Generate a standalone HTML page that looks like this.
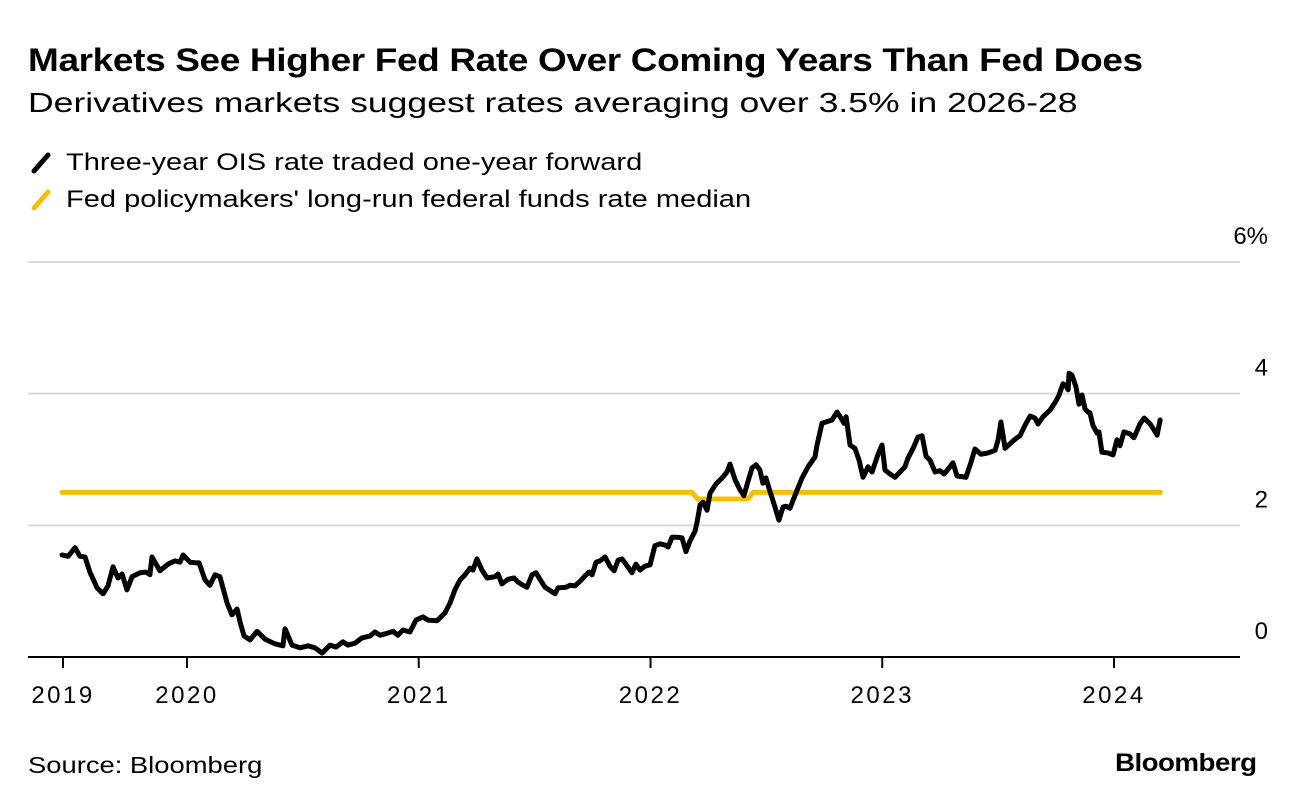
<!DOCTYPE html>
<html><head><meta charset="utf-8"><style>
body{margin:0;background:#fff;font-family:"Liberation Sans",sans-serif;}
#wrap{position:relative;width:1296px;height:806px;overflow:hidden;}
.t{position:absolute;white-space:nowrap;color:#000;transform-origin:0 50%;}
</style></head><body>
<div id="wrap">
<div class="t" style="left:28px;top:42px;font-size:32px;font-weight:bold;letter-spacing:-0.3px;transform:scaleX(1.155)">Markets See Higher Fed Rate Over Coming Years Than Fed Does</div>
<div class="t" style="left:28px;top:87px;font-size:28px;transform:scaleX(1.27)">Derivatives markets suggest rates averaging over 3.5% in 2026-28</div>
<svg style="position:absolute;left:28px;top:150px" width="30" height="70"><line x1="6" y1="21" x2="20" y2="5" stroke="#000" stroke-width="5" stroke-linecap="round"/><line x1="6" y1="58" x2="20" y2="42" stroke="#f5c000" stroke-width="5" stroke-linecap="round"/></svg>
<div class="t" style="left:66px;top:149px;font-size:24px;transform:scaleX(1.21)">Three-year OIS rate traded one-year forward</div>
<div class="t" style="left:66px;top:186px;font-size:24px;transform:scaleX(1.21)">Fed policymakers' long-run federal funds rate median</div>
<svg id="chart" width="1296" height="806" style="position:absolute;left:0;top:0"></svg>
<div class="t" style="left:28px;top:752px;font-size:23px;transform:scaleX(1.19)">Source: Bloomberg</div>
<div class="t" style="left:1115px;top:749px;font-size:25px;font-weight:bold;letter-spacing:-0.5px;transform:scaleX(1.11)">Bloomberg</div>
</div>
<script>
const oisDates=[2019.461,2019.487,2019.517,2019.538,2019.560,2019.581,2019.612,2019.638,2019.659,2019.681,2019.702,2019.720,2019.741,2019.763,2019.797,2019.823,2019.840,2019.849,2019.883,2019.918,2019.948,2019.970,2019.983,2020.013,2020.039,2020.052,2020.078,2020.099,2020.121,2020.142,2020.173,2020.194,2020.216,2020.229,2020.246,2020.272,2020.302,2020.337,2020.380,2020.414,2020.423,2020.453,2020.488,2020.522,2020.552,2020.583,2020.617,2020.643,2020.673,2020.695,2020.725,2020.755,2020.790,2020.811,2020.833,2020.863,2020.889,2020.910,2020.932,2020.962,2020.988,2021.018,2021.040,2021.079,2021.113,2021.135,2021.156,2021.178,2021.200,2021.221,2021.234,2021.251,2021.273,2021.295,2021.329,2021.342,2021.359,2021.385,2021.411,2021.428,2021.450,2021.467,2021.489,2021.506,2021.523,2021.545,2021.575,2021.588,2021.601,2021.635,2021.653,2021.674,2021.696,2021.717,2021.735,2021.748,2021.765,2021.782,2021.804,2021.825,2021.843,2021.860,2021.877,2021.894,2021.920,2021.937,2021.955,2021.976,2021.998,2022.019,2022.041,2022.063,2022.076,2022.093,2022.114,2022.136,2022.153,2022.170,2022.192,2022.201,2022.214,2022.227,2022.244,2022.257,2022.283,2022.309,2022.330,2022.343,2022.365,2022.386,2022.403,2022.425,2022.438,2022.455,2022.472,2022.485,2022.498,2022.516,2022.537,2022.554,2022.572,2022.585,2022.602,2022.624,2022.654,2022.680,2022.710,2022.718,2022.740,2022.757,2022.783,2022.805,2022.822,2022.835,2022.844,2022.861,2022.882,2022.900,2022.917,2022.939,2022.956,2022.982,2022.999,2023.012,2023.033,2023.055,2023.085,2023.098,2023.111,2023.133,2023.154,2023.172,2023.189,2023.206,2023.228,2023.249,2023.267,2023.288,2023.305,2023.323,2023.361,2023.383,2023.400,2023.426,2023.456,2023.487,2023.500,2023.512,2023.530,2023.564,2023.581,2023.594,2023.616,2023.638,2023.659,2023.672,2023.694,2023.724,2023.750,2023.763,2023.780,2023.793,2023.802,2023.806,2023.819,2023.836,2023.849,2023.862,2023.875,2023.888,2023.896,2023.909,2023.927,2023.935,2023.948,2023.974,2023.996,2024.013,2024.026,2024.043,2024.069,2024.086,2024.112,2024.130,2024.156,2024.173,2024.186,2024.199];
const oisValues=[1.55,1.53,1.66,1.53,1.52,1.29,1.05,0.96,1.08,1.37,1.20,1.26,1.02,1.22,1.28,1.29,1.25,1.52,1.31,1.41,1.46,1.44,1.55,1.44,1.43,1.43,1.17,1.09,1.25,1.22,0.82,0.64,0.73,0.53,0.32,0.26,0.39,0.27,0.20,0.17,0.43,0.18,0.14,0.17,0.14,0.06,0.18,0.15,0.23,0.18,0.21,0.29,0.32,0.38,0.33,0.36,0.39,0.33,0.41,0.38,0.56,0.61,0.56,0.55,0.67,0.82,1.02,1.17,1.25,1.35,1.32,1.49,1.32,1.20,1.22,1.26,1.11,1.18,1.20,1.14,1.09,1.06,1.25,1.28,1.18,1.06,0.99,0.96,1.05,1.06,1.09,1.08,1.15,1.23,1.29,1.25,1.44,1.46,1.52,1.38,1.31,1.47,1.49,1.41,1.28,1.41,1.32,1.38,1.40,1.69,1.72,1.70,1.67,1.82,1.82,1.81,1.60,1.76,1.91,2.05,2.31,2.35,2.23,2.49,2.63,2.72,2.81,2.93,2.69,2.54,2.45,2.72,2.87,2.92,2.84,2.64,2.72,2.51,2.28,2.08,2.28,2.29,2.26,2.46,2.72,2.89,3.04,3.21,3.55,3.57,3.60,3.72,3.63,3.55,3.65,3.22,3.17,2.99,2.73,2.89,2.81,3.08,3.22,2.84,2.78,2.73,2.84,2.89,3.02,3.17,3.34,3.36,3.05,2.99,2.81,2.83,2.78,2.87,2.95,2.75,2.73,2.96,3.16,3.08,3.10,3.14,3.30,3.57,3.17,3.28,3.33,3.36,3.52,3.66,3.63,3.54,3.65,3.75,3.89,3.98,4.15,4.12,4.06,4.31,4.28,4.10,3.84,3.98,3.77,3.72,3.71,3.52,3.40,3.42,3.11,3.10,3.07,3.30,3.21,3.42,3.39,3.33,3.54,3.63,3.54,3.45,3.37,3.60];
const fedDates=[2019.461,2022.180,2022.202,2022.421,2022.443,2024.200];
const fedValues=[2.5,2.5,2.4,2.4,2.5,2.5];
const yTicks=[0,2,4,6];
const yTickLabels=["0","2","4","6%"];
const xTicks=[2019.465,2020,2021,2022,2023,2024];
const xTickLabels=["2019","2020","2021","2022","2023","2024"];

const NS="http://www.w3.org/2000/svg";
const svg=document.getElementById('chart');
const X0=28,X1=1240;
function xs(t){return 187+(t-2020)*231.75;}
function ys(v){return 657-v*65.83;}
function mk(tag,attrs){const e=document.createElementNS(NS,tag);for(const k in attrs)e.setAttribute(k,attrs[k]);svg.appendChild(e);return e;}
yTicks.forEach((v,i)=>{
  if(v>0){const g=mk('line',{x1:X0,x2:X1,y1:ys(v),y2:ys(v),stroke:'#d9d9d9','stroke-width':2});
  
  }
  const t=mk('text',{x:1268,y:ys(v)-18,'text-anchor':'end','font-size':24,'font-family':'Liberation Sans, sans-serif',fill:'#000'});
  t.textContent=yTickLabels[i];
  
  
});
xTicks.forEach((v,i)=>{
  const l=mk('line',{x1:xs(v),x2:xs(v),y1:657,y2:668,stroke:'#000','stroke-width':2});
  
  
  const t=mk('text',{x:xs(v),y:703,'text-anchor':'middle','font-size':24,'letter-spacing':2.5,'font-family':'Liberation Sans, sans-serif',fill:'#000'});
  t.textContent=xTickLabels[i];
  
  
});
const fed=mk('polyline',{points:fedDates.map((d,i)=>xs(d)+','+ys(fedValues[i])).join(' '),fill:'none',stroke:'#f5c000','stroke-width':5,'stroke-linejoin':'round','stroke-linecap':'round'});


const ois=mk('polyline',{points:oisDates.map((d,i)=>xs(d)+','+ys(oisValues[i])).join(' '),fill:'none',stroke:'#000','stroke-width':5,'stroke-linejoin':'round','stroke-linecap':'round'});


const ax=mk('line',{x1:X0,x2:X1,y1:657,y2:657,stroke:'#000','stroke-width':2});


</script>
</body></html>
